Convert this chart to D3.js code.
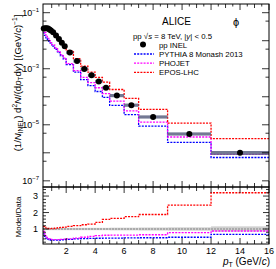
<!DOCTYPE html>
<html>
  <head>
    <meta charset="utf-8" />
    <style>
      body { margin: 0; background: #fff; }
      text { font-family: "Liberation Sans", Arial, sans-serif; fill: #000; }
    </style>
  </head>
  <body>
    <svg width="276" height="269"></svg>
    <script src="https://d3js.org/d3.v7.min.js"></script>
    <script>
      // pT bin edges (GeV/c)
      var binEdges = [0.4, 0.5, 0.6, 0.7, 0.8, 0.9, 1.0, 1.2, 1.4, 1.6, 1.8, 2.0,
        2.5, 3.0, 3.5, 4.0, 4.5, 5.0, 6.0, 7.0, 9.0, 12.0, 16.0];
      // pp INEL yields
      var dataYield = [0.027, 0.028, 0.028, 0.027, 0.025, 0.023, 0.020, 0.0155,
        0.0115, 0.0085, 0.0063, 0.0038, 0.0019, 0.00098, 0.00058, 0.00035,
        0.00021, 0.00011, 5.0e-5, 1.9e-5, 4.7e-6, 1.0e-6];
      // relative systematic uncertainty
      var dataSyst = [0.08, 0.08, 0.07, 0.07, 0.07, 0.07, 0.07, 0.07, 0.07, 0.07,
        0.07, 0.07, 0.07, 0.07, 0.07, 0.07, 0.07, 0.08, 0.08, 0.09, 0.1, 0.16];
      // model / data ratios per bin
      var ratioPythia = [0.7, 0.55, 0.45, 0.38, 0.35, 0.33, 0.32, 0.32, 0.33, 0.34,
        0.35, 0.37, 0.4, 0.42, 0.43, 0.44, 0.45, 0.45, 0.46, 0.47, 0.5, 0.68];
      var ratioPhojet = [0.85, 0.7, 0.55, 0.45, 0.4, 0.37, 0.36, 0.36, 0.36, 0.37,
        0.38, 0.4, 0.45, 0.5, 0.55, 0.6, 0.62, 0.63, 0.63, 0.65, 0.78, 0.88];
      var ratioEpos = [1.15, 1.1, 1.05, 1.03, 1.02, 1.02, 1.03, 1.05, 1.08, 1.1,
        1.12, 1.16, 1.2, 1.26, 1.3, 1.4, 1.58, 1.65, 1.75, 1.88, 2.45, 3.2];

      var models = [
        { name: "PYTHIA 8 Monash 2013", color: "#0000ff", ratio: ratioPythia },
        { name: "PHOJET", color: "#ff00ff", ratio: ratioPhojet },
        { name: "EPOS-LHC", color: "#ff0000", ratio: ratioEpos }
      ];

      var svg = d3.select("svg");
      var padL = 43, padR = 269, padT = 4, padM = 187, padB = 244;

      var x = d3.scaleLinear().domain([0.4, 16]).range([padL, padR]);
      var y = d3.scaleLog().domain([Math.pow(10, -7.22), Math.pow(10, -0.69)]).range([padM, padT]);
      var yr = d3.scaleLinear().domain([0.09, 3.55]).range([padB, padM]);

      var bins = dataYield.map(function (v, i) {
        return { lo: binEdges[i], hi: binEdges[i + 1], c: (binEdges[i] + binEdges[i + 1]) / 2, v: v, s: dataSyst[i] };
      });

      function stepPath(vals, ys) {
        var p = "";
        vals.forEach(function (v, i) {
          var x0 = x(binEdges[i]), x1 = x(binEdges[i + 1]), yy = ys(v);
          p += (i === 0 ? "M" : "L") + x0 + "," + yy + "L" + x1 + "," + yy;
        });
        return p;
      }

      svg.append("defs").append("clipPath").attr("id", "clipR")
        .append("rect").attr("x", padL).attr("y", padM).attr("width", padR - padL).attr("height", padB - padM);

      // ---------- ratio panel ----------
      var gr = svg.append("g").attr("clip-path", "url(#clipR)");
      gr.selectAll("rect.band").data(bins).enter().append("rect")
        .attr("x", function (d) { return x(d.lo); })
        .attr("width", function (d) { return x(d.hi) - x(d.lo); })
        .attr("y", function (d) { return yr(1 + d.s); })
        .attr("height", function (d) { return yr(1 - d.s) - yr(1 + d.s); })
        .attr("fill", "#cfcfcf");
      gr.append("line").attr("x1", padL).attr("x2", padR).attr("y1", yr(1)).attr("y2", yr(1))
        .attr("stroke", "#888").attr("stroke-width", 1.2).attr("stroke-dasharray", "2,1");
      models.forEach(function (m) {
        gr.append("path").attr("d", stepPath(m.ratio, yr)).attr("fill", "none")
          .attr("stroke", m.color).attr("stroke-width", 1.3).attr("stroke-dasharray", "2,1.2");
      });

      // ---------- main panel ----------
      var gm = svg.append("g");
      models.forEach(function (m) {
        var vals = dataYield.map(function (v, i) { return v * m.ratio[i]; });
        gm.append("path").attr("d", stepPath(vals, y)).attr("fill", "none")
          .attr("stroke", m.color).attr("stroke-width", 1.3).attr("stroke-dasharray", "2,1.2");
      });
      gm.selectAll("rect.syst").data(bins).enter().append("rect")
        .attr("x", function (d) { return x(d.lo); })
        .attr("width", function (d) { return x(d.hi) - x(d.lo); })
        .attr("y", function (d) { return Math.min(y(d.v * (1 + d.s)), y(d.v) - 1.6); })
        .attr("height", function (d) { return Math.max(y(d.v * (1 - d.s)) - y(d.v * (1 + d.s)), 3.2); })
        .attr("fill", "#5a6180").attr("opacity", 0.85);
      gm.selectAll("circle").data(bins).enter().append("circle")
        .attr("cx", function (d) { return x(d.c); })
        .attr("cy", function (d) { return y(d.v); })
        .attr("r", 3).attr("fill", "#000");

      // ---------- frames & ticks ----------
      var ax = svg.append("g").attr("stroke", "#000").attr("fill", "none");
      ax.append("rect").attr("x", padL).attr("y", padT).attr("width", padR - padL).attr("height", padM - padT).attr("stroke-width", 1);
      ax.append("rect").attr("x", padL).attr("y", padM).attr("width", padR - padL).attr("height", padB - padM).attr("stroke-width", 1);

      function tick(x1, y1, x2, y2) {
        ax.append("line").attr("x1", x1).attr("y1", y1).attr("x2", x2).attr("y2", y2).attr("stroke-width", 0.8);
      }

      // x ticks
      d3.range(1, 16.01, 0.5).forEach(function (v) {
        var major = v % 2 === 0, med = v % 1 === 0;
        var len = major ? 6 : (med ? 4 : 2.5);
        [padT, padM].forEach(function (yy) { tick(x(v), yy, x(v), yy + len); });
        [padM, padB].forEach(function (yy) { tick(x(v), yy, x(v), yy - len); });
      });
      // log y ticks
      for (var e = -7; e <= -1; e++) {
        var d1 = Math.pow(10, e), d5 = 5 * Math.pow(10, e);
        tick(padL, y(d1), padL + 7, y(d1));
        tick(padR, y(d1), padR - 7, y(d1));
        if (e < -1) {
          tick(padL, y(d5), padL + 3.5, y(d5));
          tick(padR, y(d5), padR - 3.5, y(d5));
        }
      }
      // ratio y ticks
      d3.range(0.2, 3.5, 0.2).forEach(function (v) {
        var major = Math.abs(v - Math.round(v)) < 1e-6;
        var len = major ? 6 : 3;
        tick(padL, yr(v), padL + len, yr(v));
        tick(padR, yr(v), padR - len, yr(v));
      });

      // labels
      var lab = svg.append("g");
      [-1, -3, -5, -7].forEach(function (e) {
        var t = lab.append("text").attr("x", 39).attr("y", y(Math.pow(10, e)) + 3.5)
          .attr("text-anchor", "end").attr("font-size", 9);
        t.append("tspan").text("10");
        t.append("tspan").attr("font-size", 6).attr("dy", -4).text("\u2212" + (-e));
      });
      [1, 2, 3].forEach(function (v) {
        lab.append("text").attr("x", 38).attr("y", yr(v) + 3.2).attr("text-anchor", "end")
          .attr("font-size", 9).text(v);
      });
      d3.range(2, 17, 2).forEach(function (v) {
        lab.append("text").attr("x", x(v)).attr("y", 254).attr("text-anchor", "middle")
          .attr("font-size", 9).text(v);
      });

      var xt = lab.append("text").attr("x", 270).attr("y", 265).attr("text-anchor", "end").attr("font-size", 10);
      xt.append("tspan").attr("font-style", "italic").text("p");
      xt.append("tspan").attr("font-size", 7).attr("dy", 2).text("T");
      xt.append("tspan").attr("dy", -2).text(" (GeV/");
      xt.append("tspan").attr("font-style", "italic").text("c");
      xt.append("tspan").text(")");

      var yt = lab.append("text").attr("transform", "translate(21,83) rotate(-90)")
        .attr("text-anchor", "middle").attr("font-size", 9.6);
      yt.append("tspan").text("(1/");
      yt.append("tspan").attr("font-style", "italic").text("N");
      yt.append("tspan").attr("font-size", 6.5).attr("dy", 2).text("INEL");
      yt.append("tspan").attr("dy", -2).text(") d");
      yt.append("tspan").attr("font-size", 6.5).attr("dy", -4).text("2");
      yt.append("tspan").attr("dy", 4).attr("font-style", "italic").text("N");
      yt.append("tspan").text("/(d");
      yt.append("tspan").attr("font-style", "italic").text("p");
      yt.append("tspan").attr("font-size", 6.5).attr("dy", 2).text("T");
      yt.append("tspan").attr("dy", -2).text("d");
      yt.append("tspan").attr("font-style", "italic").text("y");
      yt.append("tspan").text(") [(GeV/");
      yt.append("tspan").attr("font-style", "italic").text("c");
      yt.append("tspan").text(")");
      yt.append("tspan").attr("font-size", 6.5).attr("dy", -4).text("\u22121");
      yt.append("tspan").attr("dy", 4).text("]");

      lab.append("text").attr("transform", "translate(21,217) rotate(-90)")
        .attr("text-anchor", "middle").attr("font-size", 8).text("Model/Data");

      // legend
      lab.append("text").attr("x", 162).attr("y", 25).attr("font-size", 10).text("ALICE");
      lab.append("text").attr("x", 236).attr("y", 26).attr("font-size", 11).attr("text-anchor", "middle").text("\u03d5");
      var en = lab.append("text").attr("x", 133).attr("y", 39).attr("font-size", 7.8);
      en.append("tspan").text("pp \u221a");
      en.append("tspan").attr("font-style", "italic").text("s");
      en.append("tspan").text(" = 8 TeV, |");
      en.append("tspan").attr("font-style", "italic").text("y");
      en.append("tspan").text("| < 0.5");

      lab.append("circle").attr("cx", 143).attr("cy", 44.5).attr("r", 3).attr("fill", "#000");
      lab.append("text").attr("x", 159).attr("y", 47.5).attr("font-size", 7.8).text("pp INEL");
      models.forEach(function (m, i) {
        var yy = 54 + i * 9.2;
        lab.append("line").attr("x1", 134).attr("x2", 154).attr("y1", yy).attr("y2", yy)
          .attr("stroke", m.color).attr("stroke-width", 1.3).attr("stroke-dasharray", "2,1.2");
        lab.append("text").attr("x", 159).attr("y", yy + 3).attr("font-size", 7.8).text(m.name);
      });
    </script>
  </body>
</html>
